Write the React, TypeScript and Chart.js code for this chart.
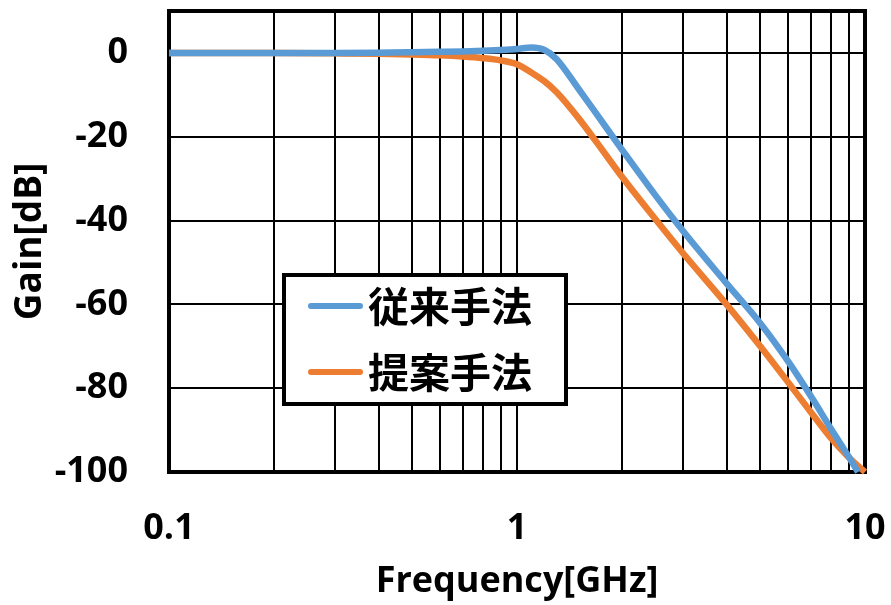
import React, { useEffect, useRef } from "react";
import { Chart, registerables } from "chart.js";

Chart.register(...registerables);

// Data
const BLUE_LABEL = "従来手法";
const ORANGE_LABEL = "提案手法";
const BLUE_FREQ = [0.1, 0.2, 0.3, 0.4, 0.5, 0.6, 0.7, 0.8, 0.9, 1.0, 1.1, 1.2, 1.3, 1.5, 1.7, 2, 2.5, 3, 4, 5, 6, 7, 8, 9, 9.55];
const BLUE_GAIN = [0, 0, 0, 0.05, 0.15, 0.25, 0.35, 0.5, 0.7, 0.95, 1.3, 0.7, -1.5, -8.5, -14.8, -23, -34, -42.5, -55, -64.5, -73.5, -82, -89.8, -96.5, -100];
const ORANGE_FREQ = [0.1, 0.2, 0.3, 0.4, 0.5, 0.6, 0.7, 0.8, 0.9, 1.0, 1.1, 1.2, 1.3, 1.5, 1.7, 2, 2.5, 3, 4, 5, 6, 7, 8, 9, 10];
const ORANGE_GAIN = [0, 0, -0.1, -0.2, -0.35, -0.55, -0.85, -1.25, -1.8, -2.7, -4.7, -6.8, -9.4, -15.5, -21.5, -29.5, -39.7, -47.8, -60, -70, -78.5, -85.8, -92, -96.6, -100];

const Y_TICKS = [-100, -80, -60, -40, -20, 0];
const X_GRID = [0.1, 0.2, 0.3, 0.4, 0.5, 0.6, 0.7, 0.8, 0.9, 1, 2, 3, 4, 5, 6, 7, 8, 9, 10];
const X_LABELS = [0.1, 1, 10];

const BLUE = "#5B9BD5";
const ORANGE = "#ED7D31";
const LATIN = '"Open Sans", sans-serif';
const CJK = '"Noto Sans CJK JP", sans-serif';

const framePlugin = {
  id: "frame",
  beforeDatasetsDraw(chart: any) {
    const { ctx, chartArea } = chart;
    ctx.save();
    ctx.strokeStyle = "#000";
    ctx.lineWidth = 4;
    ctx.strokeRect(chartArea.left, chartArea.top, chartArea.right - chartArea.left, chartArea.bottom - chartArea.top);
    ctx.restore();
  },
};

const boxLegendPlugin = {
  id: "boxLegend",
  afterDatasetsDraw(chart: any) {
    const { ctx } = chart;
    ctx.save();
    ctx.fillStyle = "#fff";
    ctx.fillRect(284, 275, 282, 129);
    ctx.strokeStyle = "#000";
    ctx.lineWidth = 4;
    ctx.strokeRect(284, 275, 282, 129);
    chart.data.datasets.forEach((ds: any, i: number) => {
      const y = 306 + i * 66;
      ctx.beginPath();
      ctx.strokeStyle = ds.borderColor;
      ctx.lineWidth = 6;
      ctx.lineCap = "round";
      ctx.moveTo(311, y);
      ctx.lineTo(360, y);
      ctx.stroke();
      ctx.fillStyle = "#000";
      ctx.font = `bold 41px ${CJK}`;
      ctx.textBaseline = "middle";
      ctx.textAlign = "left";
      ctx.fillText(ds.label, 368, y);
    });
    ctx.restore();
  },
};

export default function App() {
  const ref = useRef<HTMLCanvasElement>(null);
  useEffect(() => {
    if (!ref.current) return;
    const chart = new Chart(ref.current, {
      type: "line",
      data: {
        datasets: [
          {
            label: BLUE_LABEL,
            data: BLUE_FREQ.map((f, i) => ({ x: f, y: BLUE_GAIN[i] })),
            borderColor: BLUE,
            backgroundColor: BLUE,
            borderWidth: 6.5,
            pointRadius: 0,
            cubicInterpolationMode: "monotone",
            clip: false as any,
          },
          {
            label: ORANGE_LABEL,
            data: ORANGE_FREQ.map((f, i) => ({ x: f, y: ORANGE_GAIN[i] })),
            borderColor: ORANGE,
            backgroundColor: ORANGE,
            borderWidth: 6.5,
            pointRadius: 0,
            cubicInterpolationMode: "monotone",
            clip: false as any,
          },
        ],
      },
      options: {
        responsive: false,
        animation: false,
        layout: { padding: { left: 0, top: 11, right: 26, bottom: 0 } },
        plugins: { legend: { display: false }, tooltip: { enabled: false } },
        scales: {
          x: {
            type: "logarithmic",
            min: 0.1,
            max: 10,
            afterBuildTicks: (s: any) => {
              s.ticks = X_GRID.map((v) => ({ value: v }));
            },
            afterFit: (s: any) => {
              s.height = 133;
              s.paddingLeft = 0;
              s.paddingRight = 0;
              s.paddingTop = 0;
              s.paddingBottom = 0;
            },
            grid: { color: "#000", lineWidth: 2, drawTicks: false },
            border: { display: false },
            ticks: {
              autoSkip: false,
              maxRotation: 0,
              color: "#000",
              padding: 35,
              font: { family: LATIN, size: 36, weight: "bold" },
              callback: (v: any) => (X_LABELS.some((l) => Math.abs(l - v) < 1e-9) ? String(v) : ""),
            },
            title: {
              display: true,
              text: "Frequency[GHz]",
              color: "#000",
              font: { family: LATIN, size: 36, weight: "bold" },
              padding: { top: 0, bottom: 2 },
            },
          },
          y: {
            type: "linear",
            min: -100,
            max: 10,
            afterBuildTicks: (s: any) => {
              s.ticks = Y_TICKS.map((v) => ({ value: v }));
            },
            afterFit: (s: any) => {
              s.width = 169;
              s.paddingLeft = 0;
              s.paddingRight = 0;
              s.paddingTop = 0;
              s.paddingBottom = 0;
            },
            grid: { color: "#000", lineWidth: 2, drawTicks: false },
            border: { display: false },
            ticks: {
              color: "#000",
              padding: 41,
              font: { family: LATIN, size: 36, weight: "bold" },
            },
            title: {
              display: true,
              text: "Gain[dB]",
              color: "#000",
              font: { family: LATIN, size: 37, weight: "bold" },
              padding: { top: 8, bottom: 0 },
            },
          },
        },
      },
      plugins: [framePlugin, boxLegendPlugin],
    } as any);
    return () => chart.destroy();
  }, []);
  return (
    <div style={{ position: "absolute", left: 0, top: 0, width: 891, height: 605, background: "#fff" }}>
      <canvas ref={ref} width={891} height={605} style={{ display: "block" }} />
    </div>
  );
}
